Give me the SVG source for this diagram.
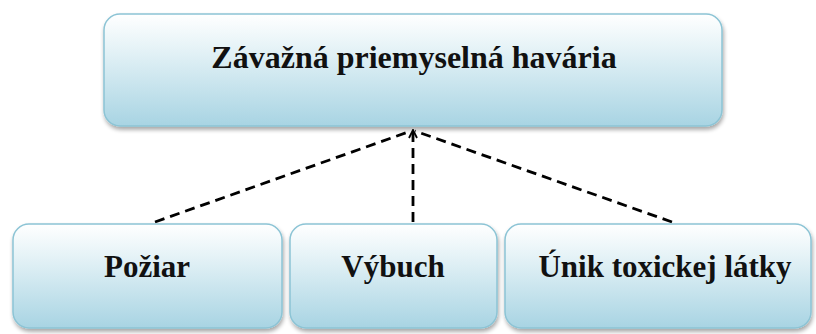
<svg xmlns="http://www.w3.org/2000/svg" width="816" height="334" viewBox="0 0 816 334">
<defs>
<linearGradient id="g" x1="0" y1="0" x2="0" y2="1">
<stop offset="0" stop-color="#ffffff"/>
<stop offset="0.3" stop-color="#e6f3f7"/>
<stop offset="1" stop-color="#a8d4e3"/>
</linearGradient>
<filter id="sh" x="-5%" y="-5%" width="110%" height="120%">
<feGaussianBlur in="SourceAlpha" stdDeviation="2"/>
<feOffset dx="1" dy="3"/>
<feComponentTransfer><feFuncA type="linear" slope="0.35"/></feComponentTransfer>
<feMerge><feMergeNode/><feMergeNode in="SourceGraphic"/></feMerge>
</filter>
<marker id="ah" viewBox="0 0 10 10" refX="9" refY="5" markerWidth="10" markerHeight="10" markerUnits="userSpaceOnUse" orient="auto">
<path d="M1,1 L9,5 L1,9" fill="none" stroke="#000" stroke-width="1.8"/>
</marker>
</defs>
<style>
.box{fill:url(#g);stroke:#8cc4d5;stroke-width:1.5;filter:url(#sh)}
.t{font-family:"Liberation Serif","Times New Roman",serif;font-weight:bold;fill:#111;text-anchor:middle}
.c{stroke:#000;stroke-width:2.8;stroke-dasharray:10,6;fill:none}
</style>
<g id="connectors">
<line class="c" x1="155" y1="222" x2="411" y2="131"/>
<line class="c" x1="413" y1="222" x2="413" y2="130" marker-end="url(#ah)"/>
<line class="c" x1="672" y1="222" x2="415" y2="131"/>
</g>
<g id="n0">
<rect class="box" x="104" y="14" width="618" height="112" rx="16"/>
<text class="t" x="414" y="68" font-size="32">Závažná priemyselná havária</text>
</g>
<g id="n1">
<rect class="box" x="13" y="224" width="269" height="104" rx="16"/>
<text class="t" x="147" y="277" font-size="31">Požiar</text>
</g>
<g id="n2">
<rect class="box" x="290" y="224" width="207" height="104" rx="16"/>
<text class="t" x="393" y="277" font-size="31">Výbuch</text>
</g>
<g id="n3">
<rect class="box" x="505" y="224" width="306" height="104" rx="16"/>
<text class="t" x="665" y="277" font-size="31">Únik toxickej látky</text>
</g>
</svg>
